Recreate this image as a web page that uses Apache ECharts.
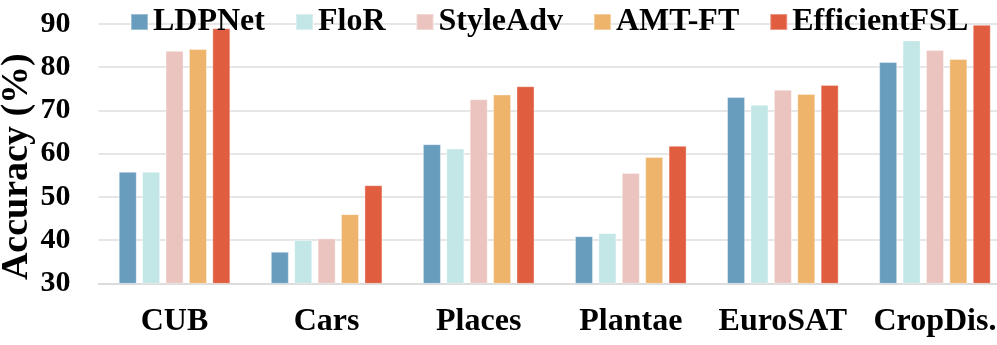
<!DOCTYPE html>
<html>
<head>
<meta charset="utf-8">
<script src="https://cdn.jsdelivr.net/npm/echarts@6/dist/echarts.min.js"></script>
<style>
  html, body { margin: 0; padding: 0; background: #fff; }
  #chart { width: 997px; height: 345px; }
</style>
</head>
<body>
<div id="chart"></div>
<script>
// datasets on the x axis
var datasets = ["CUB", "Cars", "Places", "Plantae", "EuroSAT", "CropDis."];
// accuracy per method (%)
var ldpnet       = [55.8, 37.3, 62.2, 40.9, 73.1, 81.2];
var flor         = [55.8, 40.0, 61.2, 41.6, 71.3, 86.2];
var styleAdv     = [83.8, 40.4, 72.6, 55.5, 74.8, 84.0];
var amtFt        = [84.2, 46.0, 73.7, 59.2, 73.8, 81.9];
var efficientFsl = [89.0, 52.7, 75.6, 61.8, 75.9, 89.8];
var yTicks = [30, 40, 50, 60, 70, 80, 90];

var font = "'Liberation Serif', 'Times New Roman', serif";

var myChart = echarts.init(document.getElementById("chart"));

function bar(name, data, color) {
  return {
    name: name,
    type: "bar",
    data: data,
    barWidth: 18,
    barGap: "30%",
    itemStyle: { color: color, borderColor: "rgba(255,255,255,0.35)", borderWidth: 1 }
  };
}

var option = {
  animation: false,
  textStyle: { fontFamily: font },
  legend: {
    top: 1,
    left: 125,
    itemWidth: 17,
    itemHeight: 16,
    itemGap: 30,
    icon: "rect",
    textStyle: { fontFamily: font, fontWeight: "bold", fontSize: 32, color: "#000" }
  },
  grid: { left: 98.5, right: -14, top: 24, bottom: 61.7, outerBoundsMode: "none", containLabel: false },
  xAxis: {
    type: "category",
    data: datasets,
    axisTick: { show: false },
    axisLine: { lineStyle: { color: "#d9d9d9", width: 1.5 } },
    axisLabel: { interval: 0, fontFamily: font, fontWeight: "bold", fontSize: 32, color: "#000", margin: 22 }
  },
  yAxis: {
    type: "value",
    min: yTicks[0],
    max: yTicks[yTicks.length - 1],
    interval: 10,
    name: "Accuracy (%)",
    nameLocation: "middle",
    nameMoveOverlap: false,
    nameGap: 62,
    nameTextStyle: { fontFamily: font, fontWeight: "bold", fontSize: 38, color: "#000", padding: [0, 26, 0, 0] },
    axisLine: { show: false },
    axisTick: { show: false },
    splitLine: { lineStyle: { color: "#dedede", width: 1.5 } },
    axisLabel: { fontFamily: font, fontWeight: "bold", fontSize: 30, color: "#000", margin: 28 }
  },
  series: [
    bar("LDPNet", ldpnet, "#689dbe"),
    bar("FloR", flor, "#c3e6e6"),
    bar("StyleAdv", styleAdv, "#ebc4bf"),
    bar("AMT-FT", amtFt, "#eeb46b"),
    bar("EfficientFSL", efficientFsl, "#e05d40")
  ]
};
myChart.setOption(option);
</script>
</body>
</html>
